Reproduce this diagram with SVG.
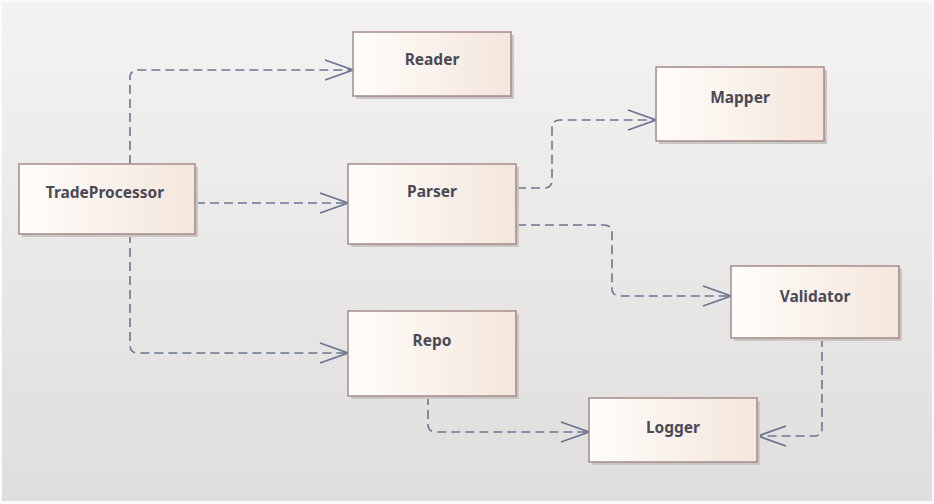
<svg xmlns="http://www.w3.org/2000/svg" width="934" height="504" viewBox="0 0 934 504">
<defs>
<linearGradient id="bg" x1="0" y1="0" x2="0" y2="1">
<stop offset="0" stop-color="#f4f3f2"/>
<stop offset="1" stop-color="#dfdedc"/>
</linearGradient>
<linearGradient id="box" x1="0" y1="0" x2="1" y2="0">
<stop offset="0" stop-color="#fffdfb"/>
<stop offset="1" stop-color="#f4e6dc"/>
</linearGradient>
<marker id="arr" markerUnits="userSpaceOnUse" markerWidth="32" markerHeight="24" viewBox="0 0 32 24" refX="30" refY="12" orient="auto">
<path d="M2,2 L30,12 L2,22" fill="none" stroke="#6b7591" stroke-width="1.8"/>
</marker>
<style>
.sh{fill:#c9c7c5}
.bx{fill:url(#box);stroke:#a58b8b;stroke-width:1.5}
.lb{font-family:"Noto Sans","Open Sans",sans-serif;font-weight:bold;font-size:15.5px;fill:#4a4a56;text-anchor:middle}
.cn{fill:none;stroke:#6b7591;stroke-width:1.6;stroke-dasharray:9,5;marker-end:url(#arr)}
</style>
</defs>
<rect x="0" y="0" width="934" height="504" fill="#fbfbfb"/>
<rect x="2" y="2" width="930" height="499" fill="url(#bg)"/>
<g id="connectors">
<path class="cn" d="M130,164 V78 Q130,70 138,70 H353"/>
<path class="cn" d="M196,203 H348"/>
<path class="cn" d="M130,234 V345 Q130,353 138,353 H348"/>
<path class="cn" d="M517,188 H544 Q552,188 552,180 V128 Q552,120 560,120 H656"/>
<path class="cn" d="M517,225 H604 Q612,225 612,233 V288 Q612,296 620,296 H731"/>
<path class="cn" d="M428,396 V424 Q428,432 436,432 H589"/>
<path class="cn" d="M822,338 V428 Q822,436 814,436 H758"/>
</g>
<g id="TradeProcessor">
<rect class="sh" x="22" y="167" width="176" height="70"/>
<rect class="bx" x="19" y="164" width="176" height="70"/>
<text class="lb" x="105" y="198">TradeProcessor</text>
</g>
<g id="Reader">
<rect class="sh" x="356" y="35" width="158" height="64"/>
<rect class="bx" x="353" y="32" width="158" height="64"/>
<text class="lb" x="432" y="65">Reader</text>
</g>
<g id="Mapper">
<rect class="sh" x="659" y="70" width="168" height="74"/>
<rect class="bx" x="656" y="67" width="168" height="74"/>
<text class="lb" x="740" y="103">Mapper</text>
</g>
<g id="Parser">
<rect class="sh" x="351" y="167" width="168" height="80"/>
<rect class="bx" x="348" y="164" width="168" height="80"/>
<text class="lb" x="432" y="197">Parser</text>
</g>
<g id="Validator">
<rect class="sh" x="734" y="269" width="168" height="72"/>
<rect class="bx" x="731" y="266" width="168" height="72"/>
<text class="lb" x="815" y="302">Validator</text>
</g>
<g id="Repo">
<rect class="sh" x="351" y="314" width="168" height="85"/>
<rect class="bx" x="348" y="311" width="168" height="85"/>
<text class="lb" x="432" y="346">Repo</text>
</g>
<g id="Logger">
<rect class="sh" x="592" y="401" width="168" height="64"/>
<rect class="bx" x="589" y="398" width="168" height="64"/>
<text class="lb" x="673" y="433">Logger</text>
</g>
</svg>
